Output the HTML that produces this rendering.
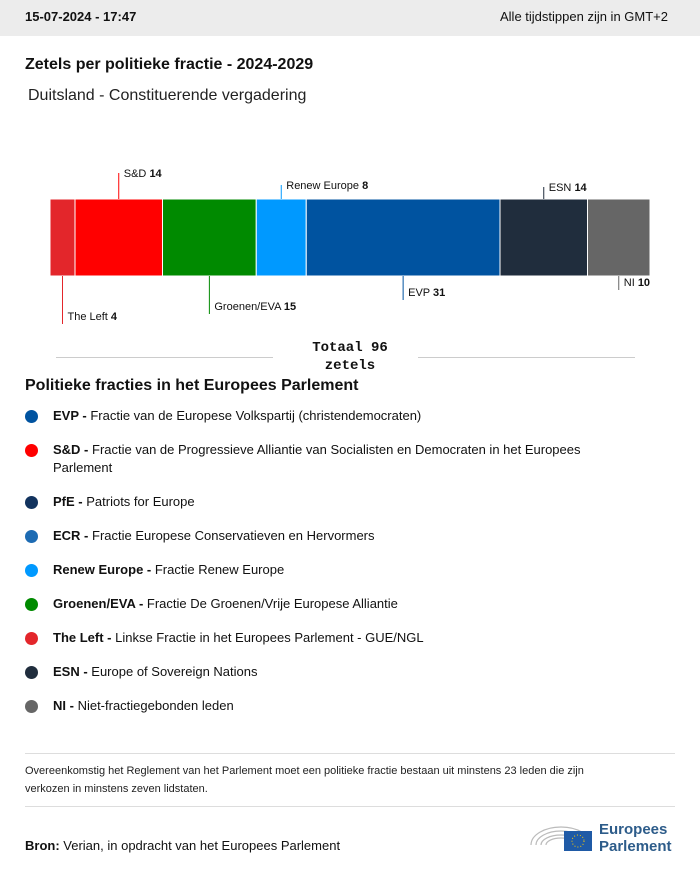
<!DOCTYPE html>
<html><head><meta charset="utf-8"><style>
body{margin:0;width:700px;height:871px;background:#fff;font-family:"Liberation Sans",sans-serif;color:#111;position:relative;overflow:hidden}
.abs{position:absolute}
.hdr{left:0;top:0;width:700px;height:36px;background:#ececec}
.leg{position:absolute;left:25px;font-size:13px;line-height:18px;width:600px}
.leg .dot{position:absolute;left:0;top:3px;width:13px;height:13px;border-radius:50%}
.leg span.t{position:absolute;left:28px;width:590px}
</style></head><body>
<div class="abs hdr"></div>
<div class="abs" style="left:25px;top:9px;font-size:13px;font-weight:bold">15-07-2024 - 17:47</div>
<div class="abs" style="right:32px;top:9px;font-size:13px">Alle tijdstippen zijn in GMT+2</div>
<div class="abs" style="left:25px;top:56px;font-size:16px;font-weight:bold">Zetels per politieke fractie - 2024-2029</div>
<div class="abs" style="left:28px;top:87px;font-size:16px;color:#222">Duitsland - Constituerende vergadering</div>
<svg class="abs" style="left:0;top:150px" width="700" height="190" id="chart"></svg>
<div class="abs" style="left:56px;top:357px;width:217px;border-top:1px solid #ccc"></div>
<div class="abs" style="left:418px;top:357px;width:217px;border-top:1px solid #ccc"></div>
<div class="abs" style="left:290px;top:339px;width:120px;text-align:center;font-family:'Liberation Mono',monospace;font-weight:bold;font-size:14px;line-height:18px">Totaal 96<br>zetels</div>
<div class="abs" style="left:25px;top:377px;font-size:16px;font-weight:bold">Politieke fracties in het Europees Parlement</div>
<div id="legend"></div>
<div class="abs" style="left:25px;top:753px;width:650px;border-top:1px solid #ddd"></div>
<div class="abs" style="left:25px;top:762px;width:600px;font-size:11px;line-height:18px;color:#222">Overeenkomstig het Reglement van het Parlement moet een politieke fractie bestaan uit minstens 23 leden die zijn verkozen in minstens zeven lidstaten.</div>
<div class="abs" style="left:25px;top:806px;width:650px;border-top:1px solid #ddd"></div>
<div class="abs" style="left:25px;top:838px;font-size:13px"><b>Bron:</b> Verian, in opdracht van het Europees Parlement</div>
<svg class="abs" style="left:528px;top:815px" width="150" height="40">
<g fill="none" stroke="#bbb" stroke-width="1.2"><path d="M3 30 A30 18 0 0 1 63 30"/><path d="M8 30 A25 14 0 0 1 58 30"/><path d="M13 30 A20 10 0 0 1 53 30"/><path d="M18 30 A15 7 0 0 1 48 30"/></g>
<rect x="36" y="16" width="28" height="20" fill="#1f5aa6"/><circle cx="50" cy="26" r="6" fill="none" stroke="#ffcc00" stroke-dasharray="1 2"/>
<text x="71" y="19" font-size="15" font-weight="bold" fill="#2d5c8a" font-family="Liberation Sans,sans-serif">Europees</text>
<text x="71" y="36" font-size="15" font-weight="bold" fill="#2d5c8a" font-family="Liberation Sans,sans-serif">Parlement</text>
</svg>
<script>
const parties=["The Left","S&D","Groenen/EVA","Renew Europe","EVP","ESN","NI"];
const seats=[4,14,15,8,31,14,10];
const colors=["#e3262b","#ff0000","#008a00","#0099ff","#0053a0","#202d3d","#666666"];
const labelSide=["below","above","below","above","below","above","below"];
const labelLen=[48,26,38,14,24,12,14];
const ns="http://www.w3.org/2000/svg";
const svg=document.getElementById("chart");
const total=seats.reduce((a,b)=>a+b,0);
const x0=50,W=600,barTop=49,barH=77;
const xs=v=>x0+v/total*W;
let cum=0;
seats.forEach((s,i)=>{
 const a=xs(cum),b=xs(cum+s);cum+=s;
 const r=document.createElementNS(ns,"rect");
 r.setAttribute("x",a);r.setAttribute("y",barTop);r.setAttribute("width",b-a);r.setAttribute("height",barH);
 r.setAttribute("fill",colors[i]);r.setAttribute("stroke","#fff");r.setAttribute("stroke-width","1");
 
 
 svg.appendChild(r);
 const m=(a+b)/2;
 const l=document.createElementNS(ns,"line");
 let y1,y2,ty;
 if(labelSide[i]=="above"){y1=barTop;y2=barTop-labelLen[i];ty=y2+4;}
 else{y1=barTop+barH;y2=y1+labelLen[i];ty=y2-4;}
 l.setAttribute("x1",m);l.setAttribute("x2",m);l.setAttribute("y1",y1);l.setAttribute("y2",y2);
 l.setAttribute("stroke",colors[i]);l.setAttribute("stroke-width","1");
 
 
 svg.appendChild(l);
 const t=document.createElementNS(ns,"text");
 t.setAttribute("x",m+5);t.setAttribute("y",ty);t.setAttribute("font-size","11");
 t.setAttribute("font-family","Liberation Sans,sans-serif");t.setAttribute("fill","#111");
 t.innerHTML=parties[i].replace("&","&amp;")+' <tspan font-weight="bold">'+s+'</tspan>';
 
 
 svg.appendChild(t);
});
const legAbbr=["EVP","S&D","PfE","ECR","Renew Europe","Groenen/EVA","The Left","ESN","NI"];
const legDesc=["Fractie van de Europese Volkspartij (christendemocraten)","Fractie van de Progressieve Alliantie van Socialisten en Democraten in het Europees Parlement","Patriots for Europe","Fractie Europese Conservatieven en Hervormers","Fractie Renew Europe","Fractie De Groenen/Vrije Europese Alliantie","Linkse Fractie in het Europees Parlement - GUE/NGL","Europe of Sovereign Nations","Niet-fractiegebonden leden"];
const legCol=["#0053a0","#ff0000","#12335e","#1d6bb3","#0099ff","#008a00","#e3262b","#202d3d","#666666"];
const legY=[407,441,493,527,561,595,629,663,697];
const lg=document.getElementById("legend");
legAbbr.forEach((a,i)=>{
 const d=document.createElement("div");d.className="leg";d.style.top=legY[i]+"px";
 
 
 d.innerHTML='<div class="dot" style="background:'+legCol[i]+'"></div><span class="t"><b>'+a.replace("&","&amp;")+' -</b> '+legDesc[i]+'</span>';
 lg.appendChild(d);
});
</script>
</body></html>
